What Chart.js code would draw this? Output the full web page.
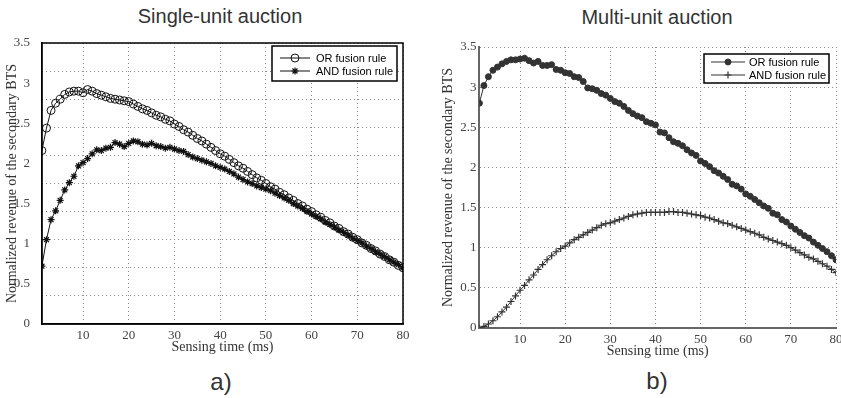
<!DOCTYPE html>
<html>
<head>
<meta charset="utf-8">
<script src="https://cdn.jsdelivr.net/npm/chart.js"></script>
<style>
  html, body { margin: 0; padding: 0; background: #fff; overflow: hidden; }
  #wrap { position: relative; width: 841px; height: 398px; overflow: hidden; }
  canvas { position: absolute; top: 0; }
  .lbl { position: absolute; font-family: "Liberation Sans", Arial, sans-serif; color: #333; text-align: center; white-space: nowrap; line-height: 1; }
</style>
</head>
<body>
<div id="wrap">
  <div class="lbl" style="left:120px; width:200px; top:6px; font-size:20px;">Single-unit auction</div>
  <div class="lbl" style="left:557px; width:200px; top:7px; font-size:20px;">Multi-unit auction</div>
  <div class="lbl" style="left:181px; width:80px; top:370px; font-size:24px;">a)</div>
  <div class="lbl" style="left:617px; width:80px; top:369px; font-size:24px;">b)</div>
  <canvas id="chartA" width="420" height="398" style="left:0px;"></canvas>
  <canvas id="chartB" width="440" height="398" style="left:420px;"></canvas>
</div>
<script>
// センシング時間 (ms)
const sensingTime = [
  1, 2, 3, 4, 5, 6, 7, 8, 9, 10, 11, 12, 13, 14, 15, 16, 17, 18, 19, 20,
  21, 22, 23, 24, 25, 26, 27, 28, 29, 30, 31, 32, 33, 34, 35, 36, 37, 38, 39, 40,
  41, 42, 43, 44, 45, 46, 47, 48, 49, 50, 51, 52, 53, 54, 55, 56, 57, 58, 59, 60,
  61, 62, 63, 64, 65, 66, 67, 68, 69, 70, 71, 72, 73, 74, 75, 76, 77, 78, 79, 80
];

// a) Single-unit auction
const singleOr = [
  2.16, 2.44, 2.66, 2.75, 2.80, 2.86, 2.89, 2.90, 2.90, 2.88, 2.92, 2.90, 2.87, 2.85, 2.83, 2.81, 2.80, 2.79, 2.78, 2.77,
  2.74, 2.71, 2.68, 2.66, 2.63, 2.60, 2.58, 2.55, 2.53, 2.49, 2.46, 2.42, 2.39, 2.35, 2.31, 2.28, 2.24, 2.20, 2.16, 2.12,
  2.09, 2.05, 2.01, 1.97, 1.94, 1.90, 1.86, 1.82, 1.79, 1.75, 1.71, 1.68, 1.64, 1.61, 1.57, 1.54, 1.50, 1.47, 1.43, 1.40,
  1.36, 1.33, 1.29, 1.26, 1.22, 1.19, 1.15, 1.12, 1.08, 1.05, 1.01, 0.98, 0.94, 0.91, 0.87, 0.84, 0.80, 0.77, 0.73, 0.70
];
const singleAnd = [
  0.72, 1.05, 1.30, 1.41, 1.54, 1.67, 1.76, 1.84, 1.97, 2.01, 2.06, 2.12, 2.17, 2.16, 2.19, 2.20, 2.26, 2.24, 2.21, 2.25,
  2.28, 2.27, 2.24, 2.23, 2.25, 2.22, 2.21, 2.19, 2.20, 2.18, 2.16, 2.15, 2.11, 2.08, 2.06, 2.04, 2.02, 2.00, 1.97, 1.95,
  1.93, 1.90, 1.87, 1.83, 1.80, 1.77, 1.75, 1.72, 1.70, 1.68, 1.66, 1.63, 1.60, 1.57, 1.54, 1.50, 1.47, 1.44, 1.40, 1.37,
  1.34, 1.31, 1.27, 1.24, 1.21, 1.17, 1.14, 1.11, 1.07, 1.04, 1.01, 0.97, 0.94, 0.90, 0.87, 0.84, 0.80, 0.77, 0.74, 0.70
];

// b) Multi-unit auction
const multiOr = [
  2.80, 3.02, 3.13, 3.21, 3.25, 3.29, 3.32, 3.34, 3.34, 3.35, 3.36, 3.33, 3.30, 3.32, 3.27, 3.27, 3.28, 3.22, 3.21, 3.18,
  3.17, 3.13, 3.12, 3.07, 2.99, 2.98, 2.96, 2.92, 2.90, 2.86, 2.82, 2.80, 2.76, 2.71, 2.67, 2.64, 2.62, 2.57, 2.55, 2.53,
  2.44, 2.43, 2.37, 2.32, 2.30, 2.27, 2.22, 2.18, 2.15, 2.08, 2.05, 2.01, 1.96, 1.93, 1.89, 1.85, 1.79, 1.77, 1.73, 1.67,
  1.64, 1.60, 1.56, 1.52, 1.49, 1.43, 1.41, 1.35, 1.32, 1.27, 1.23, 1.19, 1.15, 1.12, 1.07, 1.03, 0.99, 0.95, 0.90, 0.85
];
const multiAnd = [
  0.00, 0.02, 0.05, 0.09, 0.14, 0.20, 0.26, 0.33, 0.40, 0.47, 0.53, 0.60, 0.66, 0.73, 0.79, 0.85, 0.90, 0.95, 0.99, 1.02,
  1.06, 1.10, 1.13, 1.16, 1.19, 1.22, 1.25, 1.28, 1.30, 1.31, 1.33, 1.35, 1.37, 1.39, 1.41, 1.42, 1.43, 1.44, 1.44, 1.44,
  1.44, 1.44, 1.45, 1.45, 1.44, 1.44, 1.43, 1.42, 1.41, 1.40, 1.38, 1.37, 1.35, 1.33, 1.31, 1.30, 1.28, 1.26, 1.24, 1.22,
  1.20, 1.18, 1.16, 1.13, 1.11, 1.09, 1.07, 1.05, 1.03, 1.00, 0.97, 0.94, 0.91, 0.88, 0.86, 0.83, 0.80, 0.77, 0.73, 0.69
];

// 目盛り
const xTicks = [10, 20, 30, 40, 50, 60, 70, 80];
const yTicks = [0, 0.5, 1, 1.5, 2, 2.5, 3, 3.5];
// a) の点線グリッド (ラベルとずれている)
const yGridA = [0.35, 0.7, 1.05, 1.4, 1.75, 2.1, 2.45, 2.8, 3.15, 3.5];

const xTitle = 'Sensing time (ms)';
const yTitle = 'Normalized revenue of the secondary BTS';
const serif = '"Liberation Serif", "Times New Roman", serif';
const gridDash = [1, 3];

function toPoints(values) {
  return sensingTime.map(function(t, i) { return {x: t, y: values[i]}; });
}

function fixTicks(list) {
  return function(axis) { axis.ticks = list.map(function(v) { return {value: v}; }); };
}

function plainLabel(value) {
  return String(value);
}

/*
  凡例 (枠付き、線+マーカー)
*/
const boxLegend = {
  id: 'boxLegend',
  afterDraw(chart, args, opts) {
    const ctx = chart.ctx;
    const area = chart.chartArea;
    const x = area.right - opts.right - opts.width;
    const y = area.top + opts.top;
    ctx.save();
    ctx.fillStyle = '#fff';
    ctx.fillRect(x, y, opts.width, opts.height);
    ctx.lineWidth = 1.5;
    ctx.strokeStyle = '#000';
    ctx.strokeRect(x, y, opts.width, opts.height);
    ctx.font = '11px "Liberation Sans", Arial, sans-serif';
    ctx.textBaseline = 'middle';
    ctx.textAlign = 'left';
    chart.data.datasets.forEach(function(ds, i) {
      const ry = y + opts.rowTop + i * opts.rowGap;
      const lx = x + opts.lineX;
      ctx.strokeStyle = ds.borderColor;
      ctx.lineWidth = ds.borderWidth;
      ctx.beginPath();
      ctx.moveTo(lx, ry);
      ctx.lineTo(lx + opts.lineLen, ry);
      ctx.stroke();
      ctx.fillStyle = ds.pointBackgroundColor;
      ctx.strokeStyle = ds.pointBorderColor;
      ctx.lineWidth = ds.pointBorderWidth;
      Chart.helpers.drawPoint(ctx, {pointStyle: ds.pointStyle, radius: ds.pointRadius, borderWidth: ds.pointBorderWidth, rotation: 0}, lx + opts.lineLen / 2, ry);
      ctx.fillStyle = '#000';
      ctx.fillText(ds.label, x + opts.textX, ry + 0.5);
    });
    ctx.restore();
  }
};

/*
  枠線 (a のみ)
*/
const frame = {
  id: 'frame',
  afterDatasetsDraw(chart, args, opts) {
    if (!opts.show) return;
    const a = chart.chartArea;
    const ctx = chart.ctx;
    ctx.save();
    ctx.strokeStyle = '#000';
    ctx.lineWidth = 1.5;
    ctx.strokeRect(a.left, a.top, a.right - a.left, a.bottom - a.top);
    ctx.restore();
  }
};

Chart.register(boxLegend, frame);

// a) Single-unit auction
new Chart(document.getElementById('chartA'), {
  type: 'line',
  data: {
    datasets: [
      {
        label: 'OR fusion rule',
        data: toPoints(singleOr),
        borderColor: '#111',
        borderWidth: 1,
        pointStyle: 'circle',
        pointRadius: 4,
        pointBorderWidth: 1,
        pointBorderColor: '#111',
        pointBackgroundColor: 'rgba(255,255,255,0)'
      },
      {
        label: 'AND fusion rule',
        data: toPoints(singleAnd),
        borderColor: '#111',
        borderWidth: 1,
        pointStyle: 'star',
        pointRadius: 3.5,
        pointBorderWidth: 1.2,
        pointBorderColor: '#111',
        pointBackgroundColor: '#111'
      }
    ]
  },
  options: {
    responsive: false,
    animation: false,
    devicePixelRatio: 1,
    layout: {padding: {top: 43, right: 17, bottom: 38, left: 0}},
    plugins: {
      legend: {display: false},
      tooltip: {enabled: false},
      boxLegend: {right: 6, top: 3, width: 125, height: 35, rowTop: 12, rowGap: 13, lineX: 8, lineLen: 30, textX: 44},
      frame: {show: true}
    },
    scales: {
      x: {
        type: 'linear', min: 1, max: 80,
        afterBuildTicks: fixTicks(xTicks),
        afterFit: function(s) { s.height = 36; },
        grid: {color: '#8a8a8a', lineWidth: 1, drawTicks: false},
        border: {display: true, color: '#000', width: 1.5, dash: gridDash},
        ticks: {color: '#444', padding: 4, font: {family: serif, size: 13}, maxRotation: 0, callback: plainLabel},
        title: {display: true, text: xTitle, color: '#333', font: {family: serif, size: 14}, padding: {top: 0, bottom: 4}}
      },
      yGrid: {
        type: 'linear', position: 'left', min: 0, max: 3.5,
        afterBuildTicks: fixTicks(yGridA),
        afterFit: function(s) { s.width = 0; },
        grid: {color: '#8a8a8a', lineWidth: 1, drawTicks: false},
        border: {display: false, dash: gridDash},
        ticks: {display: false}
      },
      y: {
        type: 'linear', position: 'left', min: 0, max: 3.5,
        afterBuildTicks: fixTicks(yTicks),
        afterFit: function(s) { s.width = 41.9; },
        grid: {display: false},
        border: {display: true, color: '#000', width: 1.5},
        ticks: {color: '#444', padding: 4, font: {family: serif, size: 13}, callback: plainLabel},
        title: {display: true, text: yTitle, color: '#333', font: {family: serif, size: 14}, padding: {top: 4, bottom: 0}}
      }
    }
  }
});

// b) Multi-unit auction
new Chart(document.getElementById('chartB'), {
  type: 'line',
  data: {
    datasets: [
      {
        label: 'OR fusion rule',
        data: toPoints(multiOr),
        borderColor: '#333',
        borderWidth: 1,
        pointStyle: 'circle',
        pointRadius: 3,
        pointBorderWidth: 1,
        pointBorderColor: '#333',
        pointBackgroundColor: '#333'
      },
      {
        label: 'AND fusion rule',
        data: toPoints(multiAnd),
        borderColor: '#333',
        borderWidth: 1,
        pointStyle: 'cross',
        pointRadius: 3.5,
        pointBorderWidth: 1.2,
        pointBorderColor: '#333',
        pointBackgroundColor: '#333'
      }
    ]
  },
  options: {
    responsive: false,
    animation: false,
    devicePixelRatio: 1,
    layout: {padding: {top: 47, right: 24, bottom: 34.6, left: 15.6}},
    plugins: {
      legend: {display: false},
      tooltip: {enabled: false},
      boxLegend: {right: 7, top: 7, width: 125, height: 29, rowTop: 8, rowGap: 13, lineX: 7, lineLen: 34, textX: 45},
      frame: {show: false}
    },
    scales: {
      x: {
        type: 'linear', min: 1, max: 80,
        afterBuildTicks: fixTicks(xTicks),
        afterFit: function(s) { s.height = 35.4; },
        grid: {color: '#8a8a8a', lineWidth: 1, drawTicks: false},
        border: {display: true, color: '#666', width: 2, dash: gridDash},
        ticks: {color: '#444', padding: 4, font: {family: serif, size: 13}, maxRotation: 0, callback: plainLabel},
        title: {display: true, text: xTitle, color: '#333', font: {family: serif, size: 14}, padding: {top: 0, bottom: 4}}
      },
      y: {
        type: 'linear', position: 'left', min: 0, max: 3.5,
        afterBuildTicks: fixTicks(yTicks),
        afterFit: function(s) { s.width = 43.8; },
        grid: {color: '#8a8a8a', lineWidth: 1, drawTicks: false},
        border: {display: true, color: '#666', width: 2, dash: gridDash},
        ticks: {color: '#444', padding: 3, font: {family: serif, size: 13}, callback: plainLabel},
        title: {display: true, text: yTitle, color: '#333', font: {family: serif, size: 14}, padding: {top: 4, bottom: 0}}
      }
    }
  }
});
</script>
</body>
</html>
